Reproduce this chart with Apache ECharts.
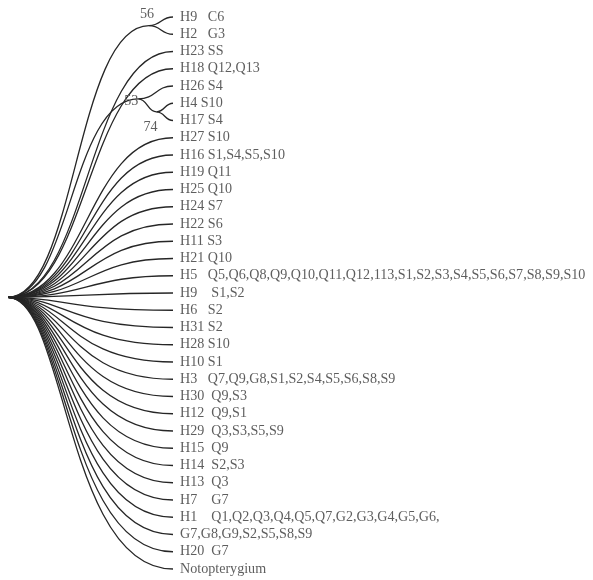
<!DOCTYPE html>
<html>
<head>
<meta charset="utf-8">
<script src="https://cdn.jsdelivr.net/npm/echarts@6/dist/echarts.min.js"></script>
<style>
  html, body { margin: 0; padding: 0; background: #fff; }
  #tree-chart { width: 593px; height: 580px; }
</style>
</head>
<body>
<div id="tree-chart"></div>
<script>
// 叶子标签（自上而下）
var leafLabels = [
  'H9   C6', 'H2   G3', 'H23 SS', 'H18 Q12,Q13', 'H26 S4', 'H4 S10', 'H17 S4',
  'H27 S10', 'H16 S1,S4,S5,S10', 'H19 Q11', 'H25 Q10', 'H24 S7', 'H22 S6',
  'H11 S3', 'H21 Q10',
  'H5   Q5,Q6,Q8,Q9,Q10,Q11,Q12,113,S1,S2,S3,S4,S5,S6,S7,S8,S9,S10',
  'H9    S1,S2', 'H6   S2', 'H31 S2', 'H28 S10', 'H10 S1',
  'H3   Q7,Q9,G8,S1,S2,S4,S5,S6,S8,S9',
  'H30  Q9,S3', 'H12  Q9,S1', 'H29  Q3,S3,S5,S9', 'H15  Q9', 'H14  S2,S3',
  'H13  Q3', 'H7    G7', 'H1    Q1,Q2,Q3,Q4,Q5,Q7,G2,G3,G4,G5,G6,',
  'G7,G8,G9,S2,S5,S8,S9', 'H20  G7', 'Notopterygium'
];
// 每个叶子的父节点
var leafParent = [
  'n56', 'n56', 'root', 'root', 'n53', 'n74', 'n74',
  'root', 'root', 'root', 'root', 'root', 'root', 'root', 'root',
  'root', 'root', 'root', 'root', 'root', 'root', 'root', 'root',
  'root', 'root', 'root', 'root', 'root', 'root', 'root', 'root',
  'root', 'root'
];
// 内部节点
var innerNodes = ['root', 'n56', 'n53', 'n74'];
var innerParent = [null, 'root', 'root', 'n53'];
var innerDepth = [0, 0.855, 0.79, 0.9];
var bootstrap = ['', '56', '53', '74'];

(function () {
  var nodeX = {}, nodeY = {}, kids = {};
  innerNodes.forEach(function (n, i) {
    nodeX[n] = innerDepth[i];
    kids[n] = [];
  });
  leafParent.forEach(function (p, i) { kids[p].push({ leaf: i }); });
  innerNodes.forEach(function (n, i) {
    if (innerParent[i]) kids[innerParent[i]].push({ inner: n });
  });
  function getY(n) {
    if (nodeY[n] !== undefined) return nodeY[n];
    var ys = kids[n].map(function (c) {
      return c.leaf !== undefined ? c.leaf : getY(c.inner);
    });
    nodeY[n] = (Math.min.apply(null, ys) + Math.max.apply(null, ys)) / 2;
    return nodeY[n];
  }
  innerNodes.forEach(getY);

  // 边: [x1, y1, x2, y2, 是否根节点]
  var edges = [];
  leafParent.forEach(function (p, i) {
    edges.push([nodeX[p], nodeY[p], 1, i, p === 'root' ? 1 : 0]);
  });
  innerNodes.forEach(function (n, i) {
    var p = innerParent[i];
    if (p) edges.push([nodeX[p], nodeY[p], nodeX[n], nodeY[n], p === 'root' ? 1 : 0]);
  });
  var leafPoints = leafLabels.map(function (t, i) { return [1, i]; });
  var bootPoints = [];
  innerNodes.forEach(function (n, i) {
    if (bootstrap[i]) bootPoints.push([nodeX[n], nodeY[n], i]);
  });
  var bootOffset = { 1: [-2, -11], 2: [-7, 2], 3: [-6, 15] };

  var font = '14.1px "Liberation Serif", "DejaVu Serif", serif';
  var chart = echarts.init(document.getElementById('tree-chart'));
  chart.setOption({
    animation: false,
    grid: { left: 8, right: 420, top: 17, bottom: 11 },
    xAxis: { type: 'value', min: 0, max: 1, show: false },
    yAxis: { type: 'value', min: 0, max: 32, inverse: true, show: false },
    series: [{
      type: 'custom',
      data: edges,
      renderItem: function (params, api) {
        var a = api.coord([api.value(0), api.value(1)]);
        var b = api.coord([api.value(2), api.value(3)]);
        // 根部曲线：向上的较圆缓，向下的较方
        var k = 0.5;
        if (api.value(4)) k = b[1] < a[1] ? 0.48 : 0.35;
        var cx = a[0] + (b[0] - a[0]) * k;
        return {
          type: 'bezierCurve',
          shape: { x1: a[0], y1: a[1], x2: b[0], y2: b[1], cpx1: cx, cpy1: a[1], cpx2: cx, cpy2: b[1] },
          style: { stroke: '#262626', lineWidth: 1.3, fill: null }
        };
      }
    }, {
      type: 'custom',
      data: leafPoints,
      renderItem: function (params, api) {
        var p = api.coord([api.value(0), api.value(1)]);
        return {
          type: 'text',
          x: p[0] + 7,
          y: p[1],
          style: { text: leafLabels[params.dataIndex], fill: '#5e5e5e', font: font, verticalAlign: 'middle', align: 'left' }
        };
      }
    }, {
      type: 'custom',
      data: bootPoints,
      renderItem: function (params, api) {
        var p = api.coord([api.value(0), api.value(1)]);
        var off = bootOffset[api.value(2)];
        return {
          type: 'text',
          x: p[0] + off[0],
          y: p[1] + off[1],
          style: { text: bootstrap[api.value(2)], fill: '#5e5e5e', font: font, verticalAlign: 'middle', align: 'center' }
        };
      }
    }]
  });
})();
</script>
</body>
</html>
